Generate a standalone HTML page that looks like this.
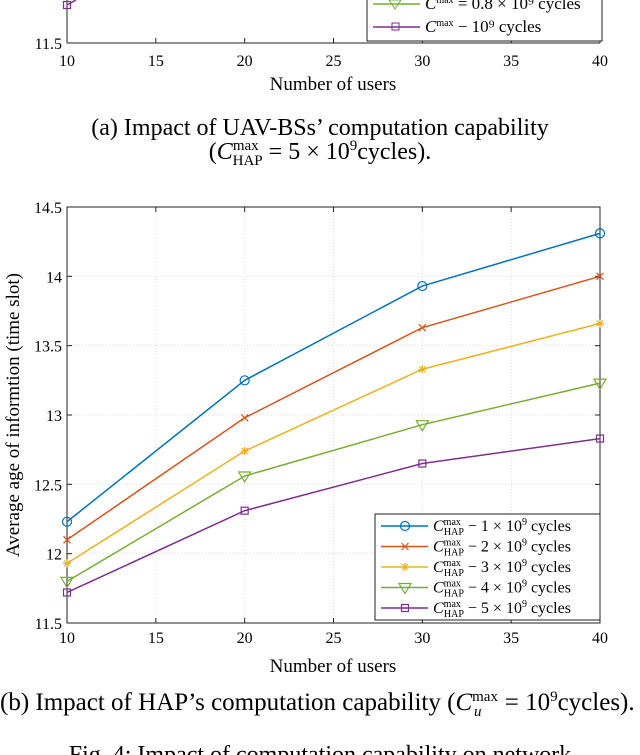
<!DOCTYPE html>
<html><head><meta charset="utf-8"><style>
body{margin:0;width:640px;height:755px;background:#fff;overflow:hidden;font-family:"Liberation Serif",serif;}
svg{position:absolute;left:0;top:0}
</style></head><body>
<svg width="640" height="755" font-family="Liberation Serif, serif">
<g>
<line x1="67" y1="0" x2="67" y2="43" stroke="#222" stroke-width="1"/>
<line x1="67" y1="43" x2="600" y2="43" stroke="#222" stroke-width="1"/>
<line x1="600" y1="0" x2="600" y2="43" stroke="#222" stroke-width="1"/>
<text x="62" y="49" text-anchor="end" font-size="16">11.5</text>
<g id="topx" font-size="16" text-anchor="middle"></g>
<text x="333" y="90" text-anchor="middle" font-size="19">Number of users</text>
<polyline points="67,5 76,0" fill="none" stroke="#7e2f8e" stroke-width="1.5"/>
<rect x="63.5" y="1.5" width="7" height="7" fill="none" stroke="#7e2f8e" stroke-width="1.2"/>
<rect x="367" y="-5" width="235" height="46" fill="#fff" stroke="#222"/>
<line x1="373" y1="4" x2="420" y2="4" stroke="#77ac30" stroke-width="1.5"/>
<path d="M389,0 L401,0 L395,9 Z" fill="none" stroke="#77ac30"/>
<text x="425" y="9" font-size="17" font-style="italic">C<tspan font-size="10" font-style="normal" dy="-6">max</tspan><tspan font-style="normal" dy="6"> = 0.8 × 10⁹ cycles</tspan></text>
<line x1="373" y1="27" x2="420" y2="27" stroke="#7e2f8e" stroke-width="1.5"/>
<rect x="392" y="23" width="7" height="7" fill="none" stroke="#7e2f8e"/>
<text x="425" y="32" font-size="17" font-style="italic">C<tspan font-size="10" font-style="normal" dy="-6">max</tspan><tspan font-style="normal" dy="6"> − 10⁹ cycles</tspan></text>
</g>
<text x="320" y="135" text-anchor="middle" font-size="24">(a) Impact of UAV-BSs’ computation capability</text>
<text x="320" y="159" text-anchor="middle" font-size="24">(<tspan font-style="italic">C</tspan><tspan font-size="15" dy="-9">max</tspan><tspan font-size="15" dx="-26" dy="15">HAP</tspan><tspan dy="-6"> = 5 × 10</tspan><tspan font-size="15" dy="-9">9</tspan><tspan dy="9">cycles).</tspan></text>
<g id="chart"></g>
<text transform="translate(19,415) rotate(-90)" text-anchor="middle" font-size="19">Average age of informtion (time slot)</text>
<text x="333" y="672" text-anchor="middle" font-size="19">Number of users</text>
<text x="0" y="710" font-size="25">(b) Impact of HAP’s computation capability (<tspan font-style="italic">C</tspan><tspan font-size="15" dy="-9">max</tspan><tspan font-size="15" font-style="italic" dx="-24" dy="15">u</tspan><tspan dx="17" dy="-6"> = 10</tspan><tspan font-size="15" dy="-9">9</tspan><tspan dy="9">cycles).</tspan></text>
<text x="320" y="762" text-anchor="middle" font-size="24">Fig. 4: Impact of computation capability on network</text>
</svg>
<script>
const categories=[10,20,30,40];
const s1=[12.23,13.25,13.93,14.31];
const s2=[12.10,12.98,13.63,14.00];
const s3=[11.93,12.74,13.33,13.66];
const s4=[11.80,12.56,12.93,13.23];
const s5=[11.72,12.31,12.65,12.83];
const xTicks=[10,15,20,25,30,35,40];
const yTicks=[11.5,12,12.5,13,13.5,14,14.5];
const legendLabels=["1","2","3","4","5"];
const NS="http://www.w3.org/2000/svg";
const X0=67,X1=600,Y0=623,Y1=207;
const xs=v=>X0+(v-10)/30*(X1-X0);
const ys=v=>Y0-(v-11.5)/3*(Y0-Y1);
function mk(t,a,p){const e=document.createElementNS(NS,t);for(const k in a)e.setAttribute(k,a[k]);p.appendChild(e);return e;}
const g=document.getElementById('chart');
const tx=document.getElementById('topx');
mk('rect',{x:X0,y:Y1,width:X1-X0,height:Y0-Y1,fill:'#fff'},g);
xTicks.forEach(v=>{
 const l=mk('line',{x1:xs(v),x2:xs(v),y1:Y1,y2:Y0,stroke:'#ddd','stroke-dasharray':'1,2'},g);
 
 mk('line',{x1:xs(v),x2:xs(v),y1:Y0,y2:Y0-5,stroke:'#222'},g);
 mk('line',{x1:xs(v),x2:xs(v),y1:Y1,y2:Y1+5,stroke:'#222'},g);
 const t=mk('text',{x:xs(v),y:Y0+20,'text-anchor':'middle','font-size':16},g);t.textContent=v;
 
 mk('line',{x1:xs(v),x2:xs(v),y1:43,y2:38,stroke:'#222'},tx);
 const t2=mk('text',{x:xs(v),y:66},tx);t2.textContent=v;
 
});
yTicks.forEach(v=>{
 const l=mk('line',{x1:X0,x2:X1,y1:ys(v),y2:ys(v),stroke:'#ddd','stroke-dasharray':'1,2'},g);
 
 mk('line',{x1:X0,x2:X0+5,y1:ys(v),y2:ys(v),stroke:'#222'},g);
 mk('line',{x1:X1,x2:X1-5,y1:ys(v),y2:ys(v),stroke:'#222'},g);
 const t=mk('text',{x:X0-5,y:ys(v)+6,'text-anchor':'end','font-size':16},g);t.textContent=v;
 
});
mk('rect',{x:X0,y:Y1,width:X1-X0,height:Y0-Y1,fill:'none',stroke:'#222'},g);
const series=[s1,s2,s3,s4,s5];
const colors=['#0072bd','#d95319','#edb120','#77ac30','#7e2f8e'];
const markers=['o','x','*','v','s'];
function marker(m,x,y,c,p){
 const a={fill:'none',stroke:c,'stroke-width':1.2};
 if(m=='o')return mk('circle',Object.assign({cx:x,cy:y,r:4.5},a),p);
 if(m=='s')return mk('rect',Object.assign({x:x-3.5,y:y-3.5,width:7,height:7},a),p);
 if(m=='v')return mk('path',Object.assign({d:`M${x-6},${y-4}L${x+6},${y-4}L${x},${y+6}Z`},a),p);
 if(m=='x')return mk('path',Object.assign({d:`M${x-3.5},${y-3.5}L${x+3.5},${y+3.5}M${x-3.5},${y+3.5}L${x+3.5},${y-3.5}`},a),p);
 return mk('path',Object.assign({d:`M${x-4},${y}L${x+4},${y}M${x},${y-4}L${x},${y+4}M${x-3},${y-3}L${x+3},${y+3}M${x-3},${y+3}L${x+3},${y-3}`},a),p);
}
series.forEach((s,i)=>{
 const pl=mk('polyline',{points:s.map((v,j)=>xs(categories[j])+','+ys(v)).join(' '),fill:'none',stroke:colors[i],'stroke-width':1.5},g);
 
 
 s.forEach((v,j)=>{const m=marker(markers[i],xs(categories[j]),ys(v),colors[i],g);
  
  });
});
const lg=mk('g',{},g);


mk('rect',{x:375,y:514,width:225,height:106,fill:'#fff',stroke:'#222'},lg);
legendLabels.forEach((n,i)=>{
 const y=526+i*20.5;
 mk('line',{x1:381,x2:428,y1:y,y2:y,stroke:colors[i],'stroke-width':1.5},lg);
 marker(markers[i],405,y,colors[i],lg);
 const t=mk('text',{x:433,y:y+5,'font-size':16},lg);
 t.innerHTML=`<tspan font-style="italic">C</tspan><tspan font-size="10" dy="-6">max</tspan><tspan font-size="10" dx="-17" dy="10">HAP</tspan><tspan dy="-4"> − ${n} × 10</tspan><tspan font-size="10" dy="-6">9</tspan><tspan dy="6"> cycles</tspan>`;
 
 
});
</script>
</body></html>
